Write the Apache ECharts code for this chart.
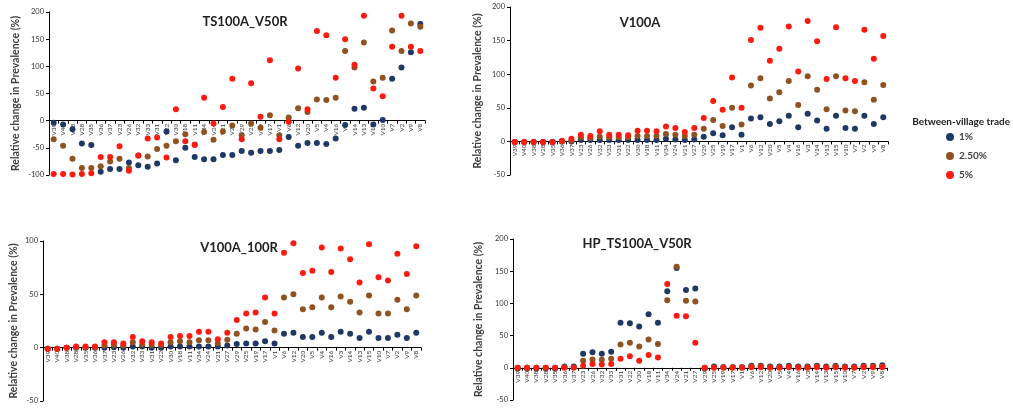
<!DOCTYPE html>
<html>
<head>
<meta charset="utf-8">
<script src="https://cdn.jsdelivr.net/npm/echarts@6/dist/echarts.min.js"></script>
<style>
  html, body { margin: 0; padding: 0; background: #fff; }
  #main { width: 1013px; height: 410px; }
</style>
</head>
<body>
<div id="main"></div>
<script>
// villages, same order on every panel
var categories = ['V39','V40','V38','V28','V35','V36','V37','V23','V26','V32','V33','V31','V22','V30','V18','V11','V34','V24','V21','V27',
  'V29','V25','V19','V17','V1','V6','V12','V20','V5','V4','V16','V3','V14','V13','V15','V10','V7','V2','V9','V8'];

var seriesNames = ['1%', '2.50%', '5%'];

// TS100A_V50R
var ts_1 = [-4,-7,-16,-42,-45,-94,-89,-89,-77,-82,-85,-79,-20,-73,-50,-67,-71,-71,-63,-63,
  -56,-59,-56,-56,-54,-30,-46,-41,-41,-43,-33,-8,22,24,-7,1,77,98,126,178];
var ts_25 = [-34,-46,-70,-87,-87,-84,-75,-70,-87,-64,-66,-52,-46,-38,-25,-44,-21,-35,-20,-9,
  -27,-5,-13,10,-27,6,23,16,39,38,42,128,98,144,72,79,166,128,179,173];
var ts_5 = [-98,-98,-99,-98,-97,-67,-67,-47,-92,-64,-33,-31,-68,21,-38,-45,42,-5,25,77,
  -34,69,7,111,-34,-2,96,21,165,157,79,150,103,193,59,45,136,193,136,128];

// V100A
var v_1 = [-1,-1,-1,-1,-1,0,0,2,2,2,2,2,2,2,2,2,4,3,2,3,
  7,12,9,21,10,34,36,26,30,38,21,41,31,19,38,20,19,38,26,36];
var v_25 = [-1,-1,-1,-1,-1,0,1,6,5,7,6,6,6,8,8,8,11,10,8,10,
  19,32,23,50,25,83,94,64,73,90,54,97,77,48,97,46,45,88,62,84];
var v_5 = [-1,-1,-1,-1,-1,1,4,10,8,15,10,10,9,16,16,15,22,20,14,20,
  35,60,47,95,50,151,169,120,138,171,104,179,149,93,170,94,90,166,123,157];

// V100A_100R
var vr_1 = [-1,-1,0,0,0,0,0,0.5,0,1,1,0,0,1,1,1,1,1,1,2,
  3.5,4,4,6,4,13,14,10,10,14,10,15,13,9,15,9,9,12,9,14];
var vr_25 = [-1,-1,0,0.5,0.5,0.5,2,2.5,2,5,3,2.5,2.5,5,6,5,7,7,4,7.5,
  13,18,17,24,16,47,50,36,38,47,38,48,43,33,49,32,32,45,36,49];
var vr_5 = [-1,-1,0,1,1,1,5,5,4,10,6,5,4,10,11,11,15,15,8,14,
  26,32,33,47,32,89,98,70,72,94,71,93,83,61,97,66,63,88,69,95];

// HP_TS100A_V50R
var hp_1 = [-1,-1,-1,-1,-1,2,2,22,24,22,25,70,69,64,83,70,119,155,121,123,
  -1,2,1,1,1,3,3,2,2,3,2,2,3,2,3,2,2,3,3,4];
var hp_25 = [0,0,0,0,0,1,1,11,13,12.5,14,36,39,33,44,37,105,157,104,103,
  0,1,1,1,1,2,2,1,1,2,1,1,2,1,2,1,1,2,2,2];
var hp_5 = [0,0,0,0,0,0,0,3,6,5,6,14,18,11,20,16,130,81,80,39,
  0,0,0,0,0,1,1,0,0,1,0,0,1,0,1,0,0,1,1,1];

var colors = ['#1f3864', '#8f5220', '#ff1a10'];
var fontFam = 'Lato, "Open Sans", sans-serif';

var chart = echarts.init(document.getElementById('main'));

var grids = [
  { left: 49, top: 12, width: 376, height: 163 },
  { left: 510, top: 7, width: 378, height: 168 },
  { left: 43, top: 241, width: 378, height: 160 },
  { left: 513, top: 239, width: 374, height: 161 }
];
var yRanges = [
  { min: -100, max: 200, interval: 50, gap: 28 },
  { min: -50, max: 200, interval: 50, gap: 27 },
  { min: -50, max: 100, interval: 50, gap: 24 },
  { min: -50, max: 200, interval: 50, gap: 29 }
];
var panelData = [
  [ts_1, ts_25, ts_5],
  [v_1, v_25, v_5],
  [vr_1, vr_25, vr_5],
  [hp_1, hp_25, hp_5]
];

var xAxes = [], yAxes = [], series = [];
for (var i = 0; i < 4; i++) {
  var r = yRanges[i];
  // put the category axis on the zero line
  var zeroShift = -grids[i].height * (0 - r.min) / (r.max - r.min);
  xAxes.push({
    type: 'category',
    gridIndex: i,
    position: 'bottom',
    offset: zeroShift,
    data: categories,
    axisLine: { onZero: false, lineStyle: { color: '#000', width: 1 } },
    axisTick: { show: true, length: 3, lineStyle: { color: '#000' } },
    axisLabel: { rotate: 90, fontSize: 6.5, color: '#333', margin: 3, interval: 0, fontFamily: fontFam }
  });
  yAxes.push({
    type: 'value',
    gridIndex: i,
    min: r.min,
    max: r.max,
    interval: r.interval,
    splitLine: { show: false },
    axisLine: { show: true, lineStyle: { color: '#000', width: 1 } },
    axisTick: { show: true, length: 3, lineStyle: { color: '#000' } },
    axisLabel: { fontSize: 7.5, color: '#333', margin: 5, fontFamily: fontFam },
    name: 'Relative change in Prevalence (%)',
    nameLocation: 'middle',
    nameGap: r.gap,
    nameTextStyle: { fontSize: 10.5, fontWeight: 'bold', color: '#404040', fontFamily: fontFam }
  });
  for (var s = 0; s < 3; s++) {
    series.push({
      name: seriesNames[s],
      type: 'scatter',
      xAxisIndex: i,
      yAxisIndex: i,
      symbolSize: 6,
      itemStyle: { color: colors[s], opacity: 1 },
      data: panelData[i][s]
    });
  }
}

var titles = [
  { text: 'TS100A_V50R', x: 245, y: 22 },
  { text: 'V100A', x: 640, y: 23 },
  { text: 'V100A_100R', x: 239, y: 248 },
  { text: 'HP_TS100A_V50R', x: 637, y: 244 }
];

var option = {
  backgroundColor: '#fff',
  animation: false,
  color: colors,
  grid: grids,
  xAxis: xAxes,
  yAxis: yAxes,
  legend: {
    orient: 'vertical',
    left: 941,
    top: 127,
    itemWidth: 8,
    itemHeight: 8,
    itemGap: 9,
    icon: 'circle',
    data: seriesNames,
    textStyle: { fontSize: 10, fontWeight: 'bold', color: '#404040', fontFamily: fontFam }
  },
  graphic: titles.map(function (t) {
    return {
      type: 'text',
      style: {
        x: t.x, y: t.y, text: t.text,
        align: 'center', verticalAlign: 'middle',
        font: 'bold 13px ' + fontFam,
        fill: '#222'
      }
    };
  }).concat([{
    type: 'text',
    style: {
      x: 1010, y: 122, text: 'Between-village trade',
      align: 'right', verticalAlign: 'middle',
      font: 'bold 10px ' + fontFam,
      fill: '#222'
    }
  }]),
  series: series
};

chart.setOption(option);
</script>
</body>
</html>
